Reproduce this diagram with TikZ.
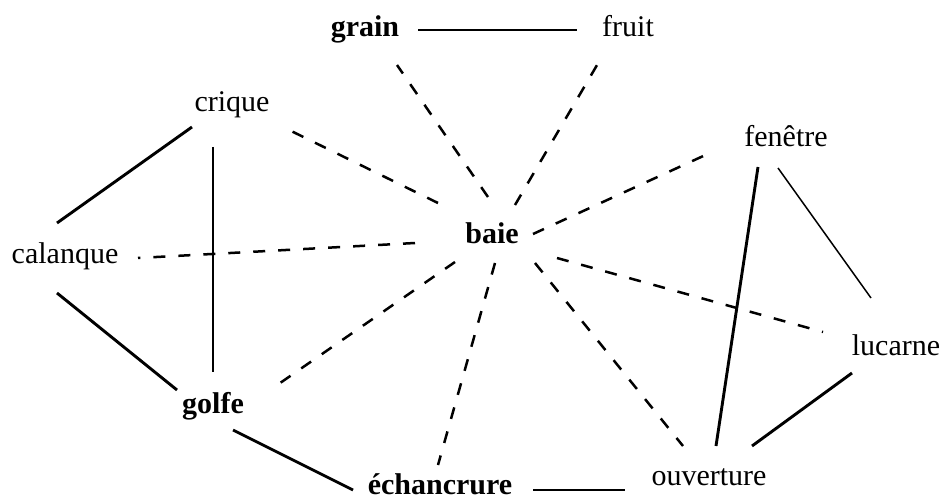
\documentclass[tikz,border=0pt]{standalone}
\usepackage{fontspec}
\setmainfont{Liberation Serif}
\usetikzlibrary{calc}
\tikzset{
  word/.style={anchor=base, inner sep=0pt, font=\fontsize{30}{36}\selectfont},
  bword/.style={anchor=base, inner sep=0pt, font=\fontsize{30}{36}\selectfont\bfseries},
  solidlink/.style={line width=2.9pt},
  thinlink/.style={line width=1.5pt},
  dashlink/.style={line width=2.5pt, dash pattern=on 12pt off 13pt},
}
\begin{document}
\begin{tikzpicture}[x=1pt,y=-1pt]
\fill[white] (0,0) rectangle (943,500);
\useasboundingbox (0,0) rectangle (943,500);

% words
\node[bword] (grain) at (365,37) {grain};
\node[word] (fruit) at (628,37) {fruit};
\node[word] (crique) at (232,112) {crique};
\node[word] (fenetre) at (786,147) {fenêtre};
\node[word] (calanque) at (65,263) {calanque};
\node[bword] (baie) at (492,243) {baie};
\node[word] (lucarne) at (896,355) {lucarne};
\node[bword] (golfe) at (213,413) {golfe};
\node[bword] (echancrure) at (440,494) {échancrure};
\node[word] (ouverture) at (709,485) {ouverture};

% solid links
\draw[solidlink] ($(grain.base)+(53,-7)$) -- ($(fruit.base)+(-51,-7)$);
\draw[solidlink] ($(crique.base)+(-40,15)$) -- ($(calanque.base)+(-8,-40)$);
\draw[solidlink] ($(crique.base)+(-19,35)$) -- ($(golfe.base)+(0,-41)$);
\draw[solidlink] ($(calanque.base)+(-8,30)$) -- ($(golfe.base)+(-36,-23)$);
\draw[solidlink] ($(golfe.base)+(20,17)$) -- ($(echancrure.base)+(-87,-4)$);
\draw[solidlink] ($(echancrure.base)+(93,-4)$) -- ($(ouverture.base)+(-84,5)$);
\draw[solidlink] ($(fenetre.base)+(-28,20)$) -- ($(ouverture.base)+(7,-39)$);
\draw[thinlink] ($(fenetre.base)+(-8,21)$) -- ($(lucarne.base)+(-25,-57)$);
\draw[solidlink] ($(lucarne.base)+(-44,18)$) -- ($(ouverture.base)+(43,-39)$);

% dashed links from baie
\draw[dashlink] ($(baie.base)+(-4,-46)$) -- ($(grain.base)+(32,28)$);
\draw[dashlink] ($(baie.base)+(23,-38)$) -- ($(fruit.base)+(-28,23)$);
\draw[dashlink] ($(baie.base)+(-54,-40)$) -- ($(crique.base)+(51,15)$);
\draw[dashlink] ($(baie.base)+(-77,0)$) -- ($(calanque.base)+(73,-5)$);
\draw[dashlink] ($(baie.base)+(-37,19)$) -- ($(golfe.base)+(57,-23)$);
\draw[dashlink] ($(baie.base)+(3,20)$) -- ($(echancrure.base)+(-2,-29)$);
\draw[dashlink] ($(baie.base)+(43,20)$) -- ($(ouverture.base)+(-26,-39)$);
\draw[dashlink] ($(baie.base)+(65,15)$) -- ($(lucarne.base)+(-73,-23)$);
\draw[dashlink] ($(baie.base)+(41,-9)$) -- ($(fenetre.base)+(-74,5)$);
\end{tikzpicture}
\end{document}
